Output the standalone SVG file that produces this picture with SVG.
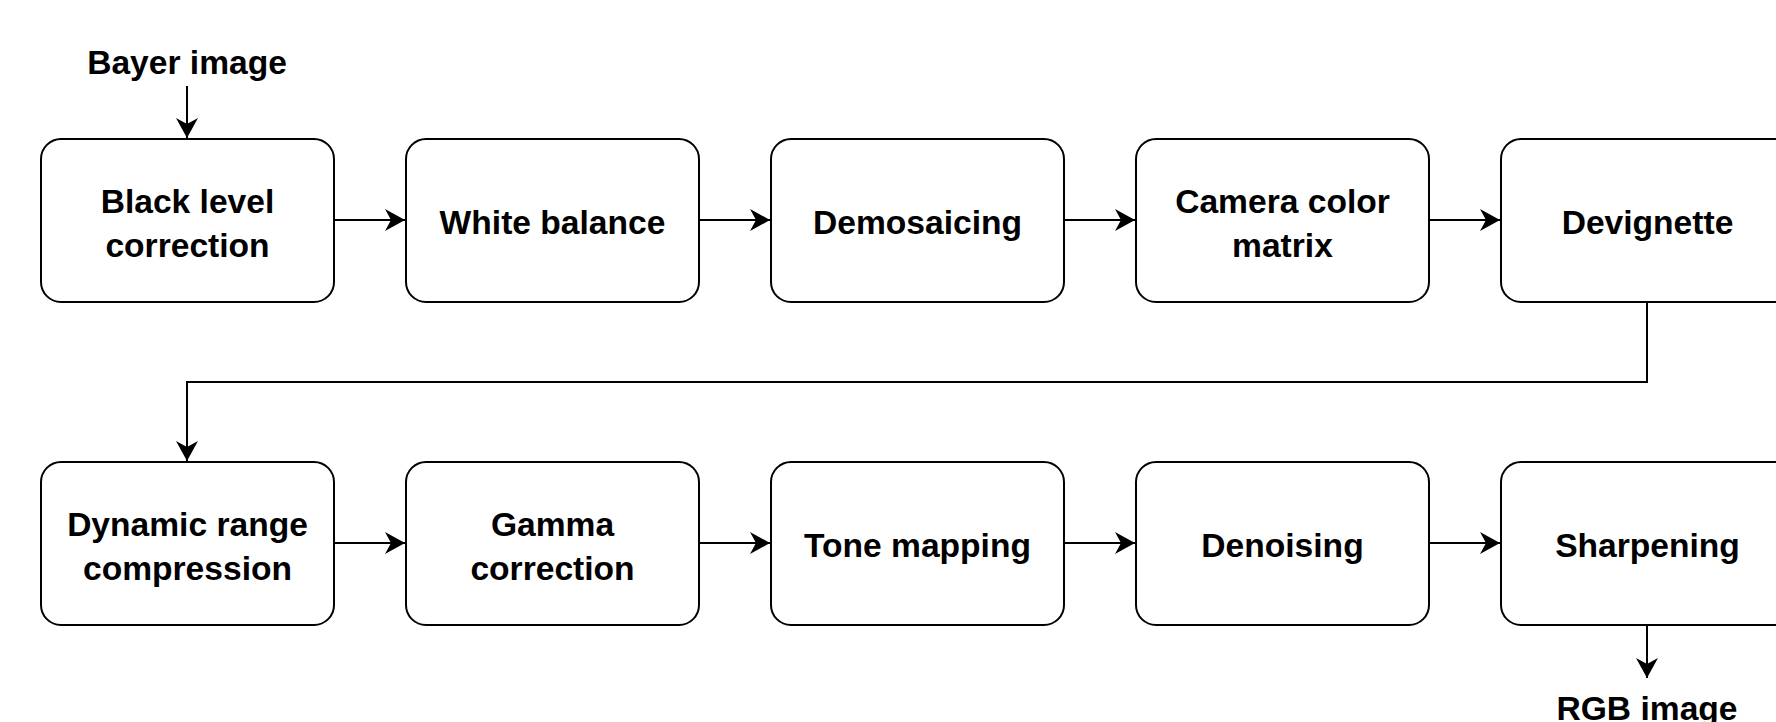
<svg xmlns="http://www.w3.org/2000/svg" width="1776" height="722" viewBox="0 0 1776 722">
<style>
.box{fill:#fff;stroke:#000;stroke-width:2}
.lbl{font-family:"Liberation Sans",Arial,sans-serif;font-weight:bold;font-size:33.6px;fill:#000;text-anchor:middle}
.edge{fill:none;stroke:#000;stroke-width:2;marker-end:url(#arr)}
</style>
<defs>
<marker id="arr" markerUnits="userSpaceOnUse" markerWidth="24" markerHeight="26" viewBox="-22 -13 24 26" refX="0" refY="0" orient="auto">
<path d="M0,0 L-20,-11 L-14,0 L-20,11 Z" fill="#000"/>
</marker>
</defs>
<rect width="1776" height="722" fill="#fff"/>
<g id="connectors">
<path class="edge" d="M187,86 L187,138"/>
<path class="edge" d="M334,220 L405,220"/>
<path class="edge" d="M699,220 L770,220"/>
<path class="edge" d="M1064,220 L1135,220"/>
<path class="edge" d="M1429,220 L1500,220"/>
<path class="edge" d="M1647,302 L1647,382 L187,382 L187,461"/>
<path class="edge" d="M334,543 L405,543"/>
<path class="edge" d="M699,543 L770,543"/>
<path class="edge" d="M1064,543 L1135,543"/>
<path class="edge" d="M1429,543 L1500,543"/>
<path class="edge" d="M1647,625 L1647,678"/>
</g>
<g id="bayer-image"><text class="lbl" x="187" y="74">Bayer image</text></g>
<g id="black-level"><rect class="box" x="41" y="139" width="293" height="163" rx="20"/><text class="lbl" x="187.5" y="213">Black level</text><text class="lbl" x="187.5" y="257">correction</text></g>
<g id="white-balance"><rect class="box" x="406" y="139" width="293" height="163" rx="20"/><text class="lbl" x="552.5" y="234">White balance</text></g>
<g id="demosaicing"><rect class="box" x="771" y="139" width="293" height="163" rx="20"/><text class="lbl" x="917.5" y="234">Demosaicing</text></g>
<g id="camera-color-matrix"><rect class="box" x="1136" y="139" width="293" height="163" rx="20"/><text class="lbl" x="1282.5" y="213">Camera color</text><text class="lbl" x="1282.5" y="257">matrix</text></g>
<g id="devignette"><rect class="box" x="1501" y="139" width="293" height="163" rx="20"/><text class="lbl" x="1647.5" y="234">Devignette</text></g>
<g id="dynamic-range"><rect class="box" x="41" y="462" width="293" height="163" rx="20"/><text class="lbl" x="187.5" y="536">Dynamic range</text><text class="lbl" x="187.5" y="580">compression</text></g>
<g id="gamma"><rect class="box" x="406" y="462" width="293" height="163" rx="20"/><text class="lbl" x="552.5" y="536">Gamma</text><text class="lbl" x="552.5" y="580">correction</text></g>
<g id="tone-mapping"><rect class="box" x="771" y="462" width="293" height="163" rx="20"/><text class="lbl" x="917.5" y="557">Tone mapping</text></g>
<g id="denoising"><rect class="box" x="1136" y="462" width="293" height="163" rx="20"/><text class="lbl" x="1282.5" y="557">Denoising</text></g>
<g id="sharpening"><rect class="box" x="1501" y="462" width="293" height="163" rx="20"/><text class="lbl" x="1647.5" y="557">Sharpening</text></g>
<g id="rgb-image"><text class="lbl" x="1647" y="720">RGB image</text></g>
</svg>
